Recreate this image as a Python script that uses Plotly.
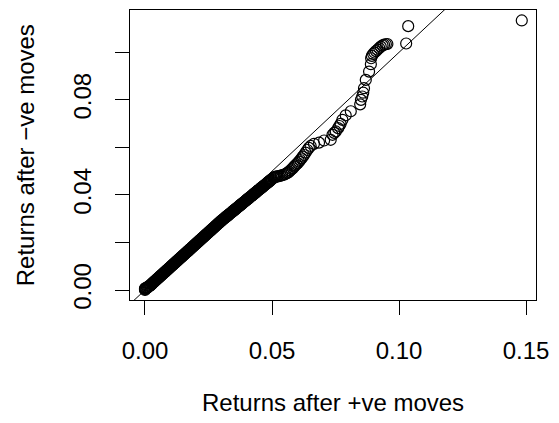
import plotly.graph_objects as go

# Sorted quantiles (QQ plot): returns after +ve moves (x) vs after -ve moves (y)
x_vals = [
    0.00000, 0.00000, 0.00000, 0.00020, 0.00050, 0.00080, 0.00100, 0.00120, 0.00150, 0.00180,
    0.00200, 0.00220, 0.00240, 0.00260, 0.00280,
    0.00300, 0.00325, 0.00350, 0.00375, 0.00400, 0.00425, 0.00450, 0.00475, 0.00500, 0.00525,
    0.00550, 0.00575, 0.00600, 0.00625, 0.00650, 0.00675, 0.00700, 0.00725, 0.00750, 0.00775,
    0.00800, 0.00825, 0.00850, 0.00875, 0.00900, 0.00925, 0.00950, 0.00975, 0.01000, 0.01025,
    0.01050, 0.01075, 0.01100, 0.01125, 0.01150, 0.01175, 0.01200, 0.01225, 0.01250, 0.01275,
    0.01300, 0.01325, 0.01350, 0.01375, 0.01400, 0.01425, 0.01450, 0.01475, 0.01500, 0.01525,
    0.01550, 0.01575, 0.01600, 0.01625, 0.01650, 0.01675, 0.01700, 0.01725, 0.01750, 0.01775,
    0.01800, 0.01825, 0.01850, 0.01875, 0.01900, 0.01925, 0.01950, 0.01975, 0.02000, 0.02025,
    0.02050, 0.02075, 0.02100, 0.02125, 0.02150, 0.02175, 0.02200, 0.02225, 0.02250, 0.02275,
    0.02300, 0.02325, 0.02350, 0.02375, 0.02400, 0.02425, 0.02450, 0.02475, 0.02500, 0.02525,
    0.02550, 0.02575, 0.02600, 0.02625, 0.02650, 0.02675, 0.02700, 0.02725, 0.02750, 0.02775,
    0.02800, 0.02825, 0.02850, 0.02875, 0.02900, 0.02925, 0.02950, 0.02975, 0.03000,
    0.03025, 0.03050, 0.03075, 0.03100, 0.03125, 0.03150, 0.03175, 0.03200, 0.03225, 0.03250,
    0.03275, 0.03300, 0.03325, 0.03350, 0.03375, 0.03400, 0.03425, 0.03450, 0.03475, 0.03500,
    0.03525, 0.03550, 0.03575, 0.03600, 0.03625, 0.03650, 0.03675, 0.03700, 0.03725, 0.03750,
    0.03775, 0.03800, 0.03825, 0.03850, 0.03875, 0.03900, 0.03925, 0.03950, 0.03975, 0.04000,
    0.04025, 0.04050, 0.04075, 0.04100, 0.04125, 0.04150, 0.04175, 0.04200, 0.04225, 0.04250,
    0.04275, 0.04300, 0.04325, 0.04350, 0.04375, 0.04400, 0.04425, 0.04450, 0.04475, 0.04500,
    0.04525, 0.04550, 0.04575, 0.04600, 0.04625, 0.04650, 0.04675, 0.04700, 0.04725, 0.04750,
    0.04775, 0.04800, 0.04825, 0.04850, 0.04875, 0.04900, 0.04925, 0.04950, 0.04975, 0.05000,
    0.05050, 0.0508, 0.0512, 0.0516, 0.0521, 0.0527, 0.0534, 0.0540, 0.0547, 0.0552,
    0.0558, 0.0562, 0.0567, 0.0572, 0.0577, 0.0582, 0.0587, 0.0591, 0.0596, 0.0601,
    0.0606, 0.0611, 0.0616, 0.0621, 0.0626, 0.0632, 0.0639, 0.0645, 0.0652, 0.0665,
    0.0685, 0.0705, 0.0731, 0.0738,
    0.0745, 0.0751, 0.0760, 0.0765, 0.0770, 0.0777, 0.0790, 0.0810, 0.0847, 0.0850,
    0.0855, 0.0859, 0.0862, 0.0869, 0.0882, 0.0889, 0.0890, 0.0893, 0.0898, 0.0903,
    0.0909, 0.0915, 0.0922, 0.0928, 0.0935, 0.0941, 0.0948, 0.0954, 0.1028, 0.1036,
    0.1483,
]
y_vals = [
    0.00000, 0.00030, 0.00060, 0.00080, 0.00080, 0.00090, 0.00110, 0.00140, 0.00160, 0.00170,
    0.00180, 0.00200, 0.00230, 0.00250, 0.00270,
    0.00291, 0.00315, 0.00340, 0.00364, 0.00388, 0.00412, 0.00437, 0.00461, 0.00485, 0.00509,
    0.00534, 0.00558, 0.00582, 0.00606, 0.00631, 0.00655, 0.00679, 0.00703, 0.00728, 0.00752,
    0.00776, 0.00800, 0.00825, 0.00849, 0.00873, 0.00897, 0.00922, 0.00946, 0.00970, 0.00994,
    0.01019, 0.01043, 0.01067, 0.01091, 0.01116, 0.01140, 0.01164, 0.01188, 0.01213, 0.01237,
    0.01261, 0.01285, 0.01310, 0.01334, 0.01358, 0.01382, 0.01407, 0.01431, 0.01455, 0.01479,
    0.01504, 0.01528, 0.01552, 0.01576, 0.01601, 0.01625, 0.01649, 0.01673, 0.01698, 0.01722,
    0.01746, 0.01770, 0.01795, 0.01819, 0.01843, 0.01867, 0.01892, 0.01916, 0.01940, 0.01964,
    0.01989, 0.02013, 0.02037, 0.02061, 0.02086, 0.02110, 0.02134, 0.02158, 0.02183, 0.02207,
    0.02231, 0.02255, 0.02280, 0.02304, 0.02328, 0.02352, 0.02377, 0.02401, 0.02425, 0.02449,
    0.02474, 0.02498, 0.02522, 0.02546, 0.02571, 0.02595, 0.02619, 0.02643, 0.02668, 0.02692,
    0.02716, 0.02740, 0.02765, 0.02789, 0.02813, 0.02837, 0.02862, 0.02886, 0.02910,
    0.02932, 0.02954, 0.02976, 0.02998, 0.03020, 0.03042, 0.03064, 0.03086, 0.03108, 0.03130,
    0.03152, 0.03174, 0.03196, 0.03218, 0.03240, 0.03262, 0.03284, 0.03306, 0.03328, 0.03350,
    0.03372, 0.03394, 0.03416, 0.03438, 0.03460, 0.03482, 0.03504, 0.03526, 0.03548, 0.03570,
    0.03592, 0.03614, 0.03636, 0.03658, 0.03680, 0.03702, 0.03724, 0.03746, 0.03768, 0.03790,
    0.03812, 0.03834, 0.03856, 0.03878, 0.03900, 0.03922, 0.03944, 0.03966, 0.03988, 0.04010,
    0.04032, 0.04054, 0.04076, 0.04098, 0.04120, 0.04142, 0.04164, 0.04186, 0.04208, 0.04230,
    0.04252, 0.04274, 0.04296, 0.04318, 0.04340, 0.04362, 0.04384, 0.04406, 0.04428, 0.04450,
    0.04472, 0.04494, 0.04516, 0.04538, 0.04560, 0.04582, 0.04604, 0.04626, 0.04648, 0.04670,
    0.04710, 0.0474, 0.0476, 0.0477, 0.0478, 0.0479, 0.0481, 0.0483, 0.0485, 0.0488,
    0.0491, 0.0494, 0.0498, 0.0503, 0.0508, 0.0513, 0.0519, 0.0524, 0.0529, 0.0534,
    0.0540, 0.0547, 0.0554, 0.0561, 0.0568, 0.0578, 0.0589, 0.0598, 0.0606, 0.0615,
    0.0620, 0.0629, 0.0632, 0.0653,
    0.0661, 0.0667, 0.0681, 0.0690, 0.0699, 0.0716, 0.0735, 0.0752, 0.0781, 0.0800,
    0.0814, 0.0830, 0.0849, 0.0884, 0.0919, 0.0950, 0.0975, 0.0985, 0.0993, 0.0999,
    0.1005, 0.1011, 0.1018, 0.1024, 0.1029, 0.1032, 0.1034, 0.1035, 0.1037, 0.1110,
    0.1134,
]

x_tick_vals = [0.00, 0.05, 0.10, 0.15]
x_tick_text = ["0.00", "0.05", "0.10", "0.15"]
y_tick_vals = [0.00, 0.02, 0.04, 0.06, 0.08, 0.10]
y_tick_text = ["0.00", "", "0.04", "", "0.08", ""]

x_title = "Returns after +ve moves"
y_title = "Returns after \u2212ve moves"

# reference line y = intercept + slope * x (abline(0, 1))
intercept, slope = 0.0, 1.0
line_x = [-1.0, 1.0]
line_y = [intercept + slope * v for v in line_x]

FONT = "Liberation Sans, Arial, Helvetica, sans-serif"

fig = go.Figure()
fig.add_trace(go.Scatter(
    x=x_vals, y=y_vals, mode="markers",
    marker=dict(symbol="circle-open", size=11, color="black",
                line=dict(color="black", width=1.2)),
    showlegend=False, hoverinfo="skip",
))
fig.add_trace(go.Scatter(
    x=line_x, y=line_y, mode="lines",
    line=dict(color="black", width=1),
    showlegend=False, hoverinfo="skip",
))

axis_common = dict(
    showgrid=False, zeroline=False, showline=True, mirror=True,
    linecolor="black", linewidth=1, ticks="outside", ticklen=14,
    tickcolor="black", tickwidth=1,
    tickfont=dict(family=FONT, size=24, color="black"),
)

fig.update_layout(
    width=559, height=423,
    margin=dict(l=130, r=23, t=10, b=123),
    paper_bgcolor="white", plot_bgcolor="white",
    xaxis=dict(range=[-0.0059, 0.1539], tickmode="array",
               tickvals=x_tick_vals, ticktext=x_tick_text,
               ticklabelstandoff=15, **axis_common),
    yaxis=dict(range=[-0.0042, 0.1178], tickmode="array",
               tickvals=y_tick_vals, ticktext=y_tick_text,
               tickangle=-90, ticklabelstandoff=14, **axis_common),
    annotations=[
        dict(text=x_title, xref="paper", yref="paper", x=0.5, y=-0.355,
             xanchor="center", yanchor="middle", showarrow=False,
             font=dict(family=FONT, size=24, color="black")),
        dict(text=y_title, xref="paper", yref="paper", x=-0.258, y=0.5,
             xanchor="center", yanchor="middle", textangle=-90, showarrow=False,
             font=dict(family=FONT, size=24, color="black")),
    ],
)

fig.write_html("out.html")
